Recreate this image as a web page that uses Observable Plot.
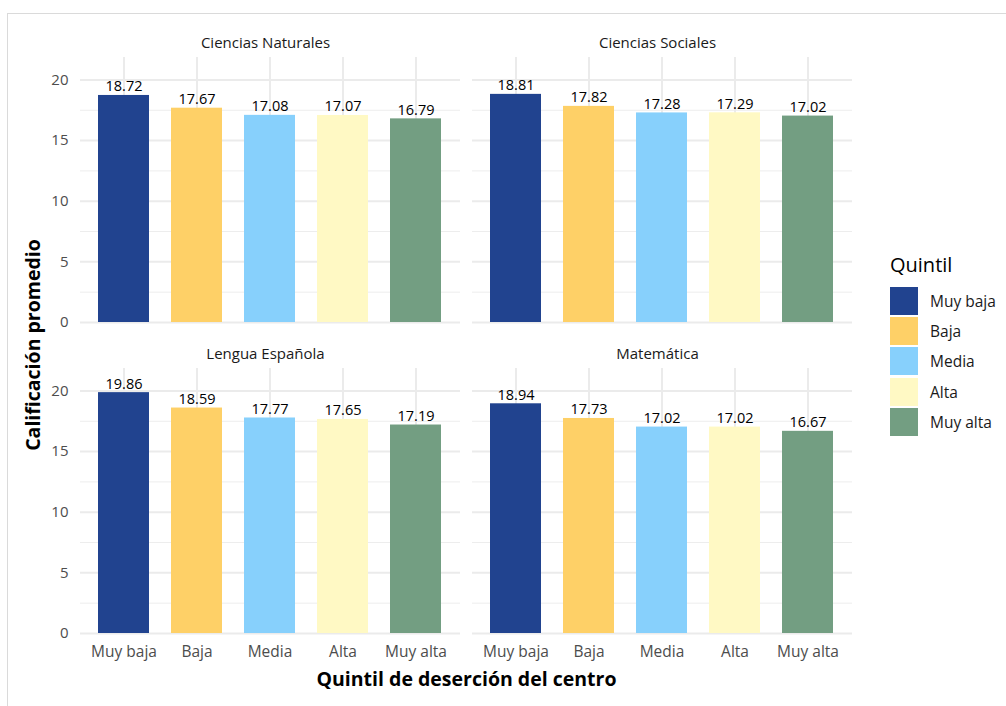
<!DOCTYPE html>
<html>
<head>
<meta charset="utf-8">
<script src="https://cdn.jsdelivr.net/npm/d3@7"></script>
<script src="https://cdn.jsdelivr.net/npm/@observablehq/plot@0.6"></script>
<style>
  html, body { margin: 0; padding: 0; background: #fff; overflow: hidden; }
  body { width: 1006px; height: 706px; position: relative; font-family: "Open Sans", sans-serif; }
  #frame { position: absolute; left: 7px; top: 13px; width: 1100px; height: 800px; border: 1px solid #dadada; box-sizing: border-box; }
  #chart { position: absolute; left: 0; top: 0; }
  #xtitle { position: absolute; left: 80px; width: 773px; top: 665px; text-align: center; font-weight: 700; font-size: 19.5px; color: #000; }
  #ytitle { position: absolute; left: 32px; top: 345px; transform: translate(-50%, -50%) rotate(-90deg); white-space: nowrap; font-weight: 700; font-size: 19.5px; color: #000; }
  #legend { position: absolute; left: 890px; top: 253px; }
  #legend .ttl { font-size: 20px; color: #000; margin-bottom: 9px; line-height: 24px; }
  #legend .row { display: flex; align-items: center; height: 30.2px; }
  #legend .sw { width: 28px; height: 28px; margin-right: 12px; }
  #legend .lab { font-size: 15.5px; color: #1a1a1a; }
</style>
</head>
<body>
<div id="frame"></div>
<div id="chart"></div>
<div id="xtitle">Quintil de deserción del centro</div>
<div id="ytitle">Calificación promedio</div>
<div id="legend"></div>
<script>
const subjects = ["Ciencias Naturales", "Ciencias Sociales", "Lengua Española", "Matemática"];
const quintiles = ["Muy baja", "Baja", "Media", "Alta", "Muy alta"];
const cienciasNaturales = [18.72, 17.67, 17.08, 17.07, 16.79];
const cienciasSociales = [18.81, 17.82, 17.28, 17.29, 17.02];
const lenguaEspanola = [19.86, 18.59, 17.77, 17.65, 17.19];
const matematica = [18.94, 17.73, 17.02, 17.02, 16.67];
const colors = ["#21438f", "#fed067", "#87d0fc", "#fff9c4", "#739e82"];
const yTicks = [0, 5, 10, 15, 20];
const yMinor = [2.5, 7.5, 12.5, 17.5];
const legendTitle = "Quintil";

const seriesBySubject = [cienciasNaturales, cienciasSociales, lenguaEspanola, matematica];
const data = [];
subjects.forEach((s, i) => {
  seriesBySubject[i].forEach((v, j) => {
    data.push({subject: s, quintil: quintiles[j], value: v, col: i % 2, row: Math.floor(i / 2)});
  });
});
const strips = subjects.map((s, i) => ({subject: s, col: i % 2, row: Math.floor(i / 2)}));

const plot = Plot.plot({
  width: 1006,
  height: 706,
  marginLeft: 80,
  marginRight: 153,
  marginTop: 56,
  marginBottom: 72,
  style: {fontFamily: "Open Sans", fontSize: "14px", background: "transparent", overflow: "visible"},
  fx: {axis: null, domain: [0, 1], paddingInner: 0.0305, paddingOuter: 0},
  fy: {axis: null, domain: [0, 1], paddingInner: 0.147, paddingOuter: 0},
  x: {domain: quintiles, paddingInner: 0.3, paddingOuter: 0.25},
  y: {domain: [0, 21.85]},
  color: {domain: quintiles, range: colors},
  marks: [
    Plot.ruleY(yMinor, {stroke: "#ededed", strokeWidth: 1}),
    Plot.ruleY(yTicks, {stroke: "#ebebeb", strokeWidth: 2}),
    Plot.ruleX(quintiles, {x: d => d, stroke: "#ebebeb", strokeWidth: 2}),
    Plot.barY(data, {x: "quintil", y: "value", fill: "quintil", fx: "col", fy: "row"}),
    Plot.text(data, {x: "quintil", y: "value", text: d => d.value.toFixed(2), fx: "col", fy: "row", lineAnchor: "bottom", dy: -4, fontSize: 14.5, fill: "#000"}),
    Plot.text(strips, {text: "subject", fx: "col", fy: "row", frameAnchor: "top", lineAnchor: "bottom", dy: -10, dx: -5, fontSize: 15, fill: "#1a1a1a"}),
    Plot.axisX({tickSize: 0, tickPadding: 12, label: null, fontSize: 15.5, color: "#4d4d4d"}),
    Plot.axisY({ticks: yTicks, tickSize: 0, tickPadding: 12, label: null, fontSize: 15, color: "#4d4d4d"})
  ]
});
document.getElementById("chart").appendChild(plot);

const legend = document.getElementById("legend");
const t = document.createElement("div");
t.className = "ttl";
t.textContent = legendTitle;
legend.appendChild(t);
const cs = plot.scale("color");
cs.domain.forEach((q, i) => {
  const r = document.createElement("div");
  r.className = "row";
  const sw = document.createElement("div");
  sw.className = "sw";
  sw.style.background = cs.range[i];
  const lb = document.createElement("div");
  lb.className = "lab";
  lb.textContent = q;
  r.appendChild(sw);
  r.appendChild(lb);
  legend.appendChild(r);
});
</script>
</body>
</html>
